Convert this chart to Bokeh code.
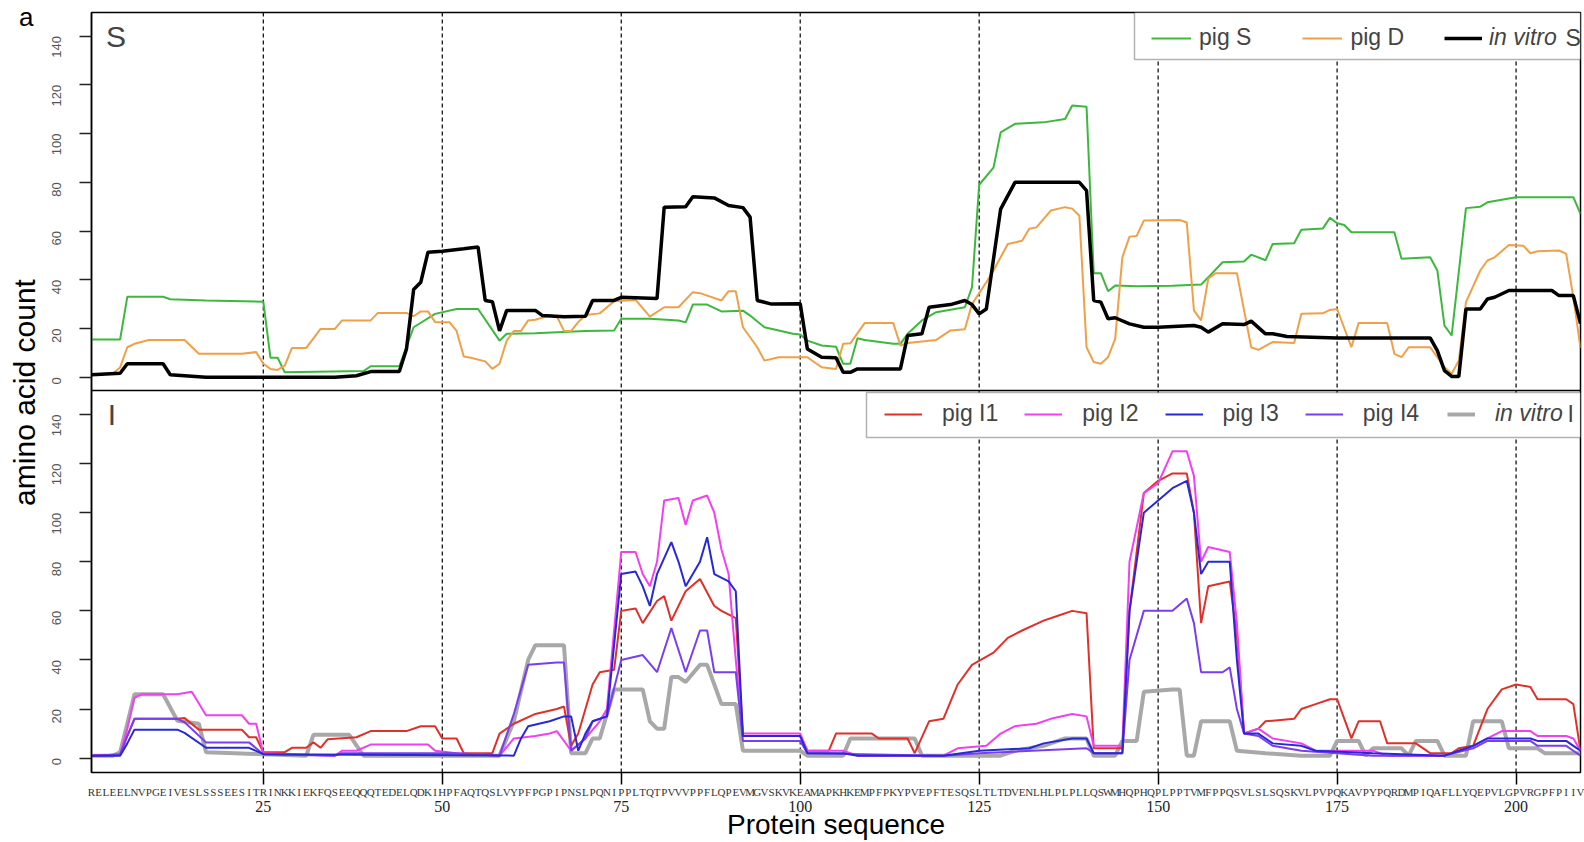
import math
from bokeh.plotting import figure
from bokeh.models import (Range1d, LinearAxis, FixedTicker, Span, Legend, LegendItem,
                          Label, BoxAnnotation)
from bokeh.embed import file_html
from bokeh.resources import INLINE

# ---------------- data ----------------
SEQUENCE = ("RELEELNVPGEIVESLSSSEESITRINKKIEKFQSEEQQQTEDELQDKIHPFAQTQSLVYPFPGPIPNSLPQNIPPLTQTPVVV"
            "PPFLQPEVMGVSKVKEAMAPKHKEMPFPKYPVEPFTESQSLTLTDVENLHLPLPLLQSWMHQPHQPLPPTVMFPPQSVLSLSQS"
            "KVLPVPQKAVPYPQRDMPIQAFLLYQEPVLGPVRGPFPIIV")
POSITION_TICKS = [25, 50, 75, 100, 125, 150, 175, 200]
COUNT_TICKS = [0, 20, 40, 60, 80, 100, 120, 140]

# panel S
PIG_S_X = [1,5,6,11,12,17,25,26,27,28,39,40,44,46,49,52,55,58,59,63,70,74,75,79,83,84,85,87,89,92,93,95,99,100,101,103,105,106,107,108,109,113,114,115,117,119,123,124,125,127,128,130,134,137,138,140,141,142,143,144,147,152,156,157,159,162,163,165,166,169,170,173,174,175,176,177,183,184,188,189,190,191,193,195,196,200,208,209]
PIG_S_Y = [15.5,15.5,33,33,32,31.5,31,8,8,2,2.5,4.5,4.5,20.5,26,28,28,15,17.8,18,19,19.2,24,24,23.3,22.5,29.8,29.8,27,27.3,25.3,20.5,17.8,17.5,15,13,12.5,5.5,5.5,16,15.3,13.7,13.7,17.8,23.3,26.7,28.7,37,79,86,100.5,104,104.6,106,111.5,111,42.7,42.7,35.3,37.6,37.3,37.5,38,41,47.2,47.5,50.3,48,54.7,55,60.5,61,65.4,63.2,62.5,59.5,59.5,48.6,49.2,43.8,21.2,17.1,69.4,70,71.8,73.9,73.9,67]

PIG_D_X = [1,4,5,6,7,9,14,16,22,24,25,26,27,28,29,31,33,35,36,40,41,45,46,47,48,49,51,52,53,54,56,57,58,59,60,61,62,63,65,66,67,68,69,70,72,74,77,79,81,83,85,86,89,90,91,92,94,95,97,101,103,105,106,107,109,113,114,115,119,121,123,124,126,127,129,131,132,133,135,137,138,139,140,141,142,143,144,145,146,147,148,153,154,155,156,157,158,161,163,164,166,169,170,173,174,175,177,178,182,183,184,185,188,189,190,191,192,193,195,196,197,199,201,202,203,206,207,208,209]
PIG_D_Y = [1,1.5,4,12.3,13.7,15.3,15.3,9.6,9.6,10.3,5.5,3.4,3,4.8,12,12,19.8,19.8,23.3,23.3,26.4,26.4,25,27,27,22.6,22.6,19,8.5,8,6.5,3.4,5.5,15,19,19,23.3,23.6,25.3,25,19,19,22.6,25.5,26.2,31.2,31.7,24.9,28.7,28.7,34.9,34.5,31.5,35.3,35.3,20.5,12.3,6.8,8.2,8.2,4.1,3.4,13.7,13.9,22.2,22.2,13,14,15.3,19.2,19.7,30,39,43.8,54.7,56,60.9,61.5,68.4,69.8,69.2,66.3,12.3,6.2,5.5,8.2,15.7,49.2,57.7,58,64.3,64.5,63.5,27.4,23.3,40.4,42.7,42.7,12.3,11.2,14.4,14,26,26.2,27.6,28,12.3,22.2,22.2,9.6,8.2,12.3,12.3,8.2,4.1,1.4,6.8,30.8,43.8,47.9,49.2,54.3,54,50.9,51.7,52,50.6,32.8,12]

VITRO_S_X = [1,5,6,11,12,14,17,35,38,40,44,45,46,47,48,50,53,55,56,57,58,59,63,64,67,70,71,74,75,80,81,84,85,88,90,92,93,94,96,100,101,103,105,106,107,108,114,115,117,118,121,123,124,125,126,128,130,139,140,141,142,143,144,146,148,150,155,156,157,159,162,163,165,166,168,175,188,189,190,191,192,193,195,196,197,199,205,206,208,209]
VITRO_S_Y = [1,1.6,5.5,5.5,1,0.6,0,0,0.6,2.3,2.3,11.6,36,39,51.3,51.7,52.7,53.4,31.5,31,19,27.4,27.4,25.3,24.8,25,31.5,31.5,32.8,32.3,69.8,70,74.1,73.6,70.5,69.6,65.7,31.5,30,30.2,11.6,8.2,8,2,2,3.4,3.4,17.1,17.8,28.7,29.8,31.5,29.8,26,28,69,80,80,76.6,31.5,30.8,24,24.4,21.9,20.5,20.5,21.2,20.5,18.5,21.9,21.6,23,17.8,17.8,16.7,16.1,16.1,10.9,2.7,0.3,0.3,28,28,32.1,32.8,35.6,35.6,33.5,33.5,22]

# panel I
PIG_I1_X = [1,5,6,7,13,14,16,22,23,24,25,28,29,31,32,33,34,38,40,45,47,49,50,52,53,57,58,60,63,66,67,68,69,70,71,72,74,75,77,78,80,81,82,84,86,88,89,91,92,100,101,104,105,110,111,115,116,118,120,122,124,127,129,131,134,136,138,140,141,145,146,148,150,152,154,155,156,157,160,161,162,164,165,169,170,172,174,175,177,178,181,182,186,188,191,192,194,196,198,200,202,203,207,208,209]
PIG_I1_Y = [1,1.5,9,16,16,16.3,11.6,11.6,8.5,8.5,2.4,2.4,4.2,4.2,6.4,4.2,7.7,8.5,11,11,13,13,8,8,2,2,10,14,18,20,21,5,10,20,30,35,36,60,61,55,64,66,56,68,73,62,60,57,9,9,3,3,10,10,8,8,2,15,16,30,38,43,49,52,56,58,60,59,4,4,60,108,113,116,116,100,55,70,72,50,10,12,15,16,20,22,24,24,8,15,15,6,6,2,2,4,5,20,28,30,29,24,24,22,3]

PIG_I2_X = [1,5,6,7,8,13,15,17,22,23,24,25,35,36,38,40,48,49,52,58,60,63,65,66,68,70,72,73,75,77,78,79,80,81,83,84,85,87,88,89,90,91,92,100,101,106,108,120,122,126,128,130,133,135,138,140,141,145,146,148,150,152,154,155,156,157,160,161,162,164,166,170,172,180,182,190,192,194,196,198,202,203,207,208,209]
PIG_I2_Y = [1,1.5,12,24.6,26,26,27,17.5,17.5,14,14,2,1,3,3,5.5,5.5,3,2,1,8,9,10,11,3,8,15,20,84,84,75,70,80,105,106,95,105,107,100,85,75,40,10,10,3,3,1,1,4,5,10,13,14,16,18,17,5,5,80,108,112,125,125,115,80,86,84,55,10,12,8,6,3,3,1,1,3,5,8,11,11,9,9,8,3]

PIG_I3_X = [1,5,6,7,13,14,17,23,25,60,61,62,65,67,68,69,70,71,73,75,77,78,79,80,82,83,84,86,87,88,90,91,92,100,101,106,108,120,125,132,134,138,140,141,145,146,148,150,152,154,155,156,157,160,161,162,164,166,170,172,180,190,192,194,196,202,203,207,208,209]
PIG_I3_Y = [1,1,6,11.6,11.6,10.3,4.2,4.2,1.6,1,8,13,15,17,17,3,10,15,17,75,76,70,62,75,88,80,70,80,90,75,72,68,9,9,2,2,1,1,3,4,6,8,8,2,2,60,100,105,110,113,100,75,80,80,40,10,10,6,5,3,2,1,3,5,8,8,7,7,5,3]

PIG_I4_X = [1,5,6,7,13,14,17,23,25,35,36,48,52,58,60,62,66,67,68,70,71,73,75,78,80,82,84,86,87,88,91,92,100,101,120,125,140,141,145,146,148,152,154,155,156,159,160,161,162,164,166,170,180,190,194,196,202,203,207,208,209]
PIG_I4_Y = [1,1.5,9,16,16,14.6,6.4,6.4,1.6,1,2,2,2,1,18,38,39,39,3,8,15,17,40,42,35,53,35,52,52,35,35,7,7,2,1,2,4,2,2,40,60,60,65,55,35,35,37,20,10,9,5,3,1,1,4,7,7,5,5,3,1]

VITRO_I_X = [1,4,5,6,7,11,13,16,17,25,31,32,37,39,58,60,62,63,67,68,70,71,72,74,78,79,80,81,82,83,84,86,87,88,89,91,92,100,101,106,107,116,117,128,130,134,137,140,141,144,145,147,148,152,153,154,155,156,160,161,165,170,174,175,178,179,180,184,185,186,189,190,193,194,198,199,203,204,209]
VITRO_I_Y = [1,1,2.4,14,26,26,15.2,14,2.4,1.6,1,9.5,9.5,1,1,15,40,46,46,2,2,8,8,28,28,15,12,12,33,33,31,38,38,30,22,22,3,3,1,1,8,8,1,1,3,5,8,8,1,1,7,7,27,28,28,1,1,15,15,3,2,1,1,7,7,1,4,4,1,7,7,1,1,15,15,4,4,2,2]

# ---------------- layout constants ----------------
W, H = 1584, 842
FRAME_W, FRAME_H, TOP_H, BOT_H = 1489, 760, 378, 382
B0, B1 = -5.87, 149.8          # count range of the lower panel
T0, T1 = -5.46, 149.7          # count range of the upper panel
b_scale = BOT_H / (B1 - B0)
B_END = B0 + FRAME_H / b_scale
t_scale = TOP_H / (T1 - T0)
T_START = T1 - FRAME_H / t_scale
N = len(SEQUENCE)
px_per_res = FRAME_W / (N - 1)

def top_to_main(v):
    return B0 + (v - T_START) / (T1 - T_START) * (B_END - B0)

SANS = "Liberation Sans"
SERIF = "Liberation Serif"

p = figure(width=W, height=H, x_range=Range1d(1, N), y_range=Range1d(B0, B_END),
           x_axis_type=None, y_axis_type=None, output_backend="svg", toolbar_location=None,
           min_border_left=91, min_border_right=4, min_border_top=12, min_border_bottom=70)
p.extra_y_ranges = {"top": Range1d(T_START, T1)}
p.outline_line_color = "black"
p.outline_line_width = 1.5
p.background_fill_color = "white"
p.border_fill_color = "white"

# left axis (both panels)
top_ticks = [round(top_to_main(v), 4) for v in COUNT_TICKS]
overrides = {float(v): str(v) for v in COUNT_TICKS}
overrides.update({t: str(v) for t, v in zip(top_ticks, COUNT_TICKS)})
yax = LinearAxis(ticker=FixedTicker(ticks=[float(v) for v in COUNT_TICKS] + top_ticks, minor_ticks=[]),
                 major_label_overrides=overrides,
                 major_label_orientation=math.pi / 2,
                 major_tick_out=12, major_tick_in=0, minor_tick_out=0, minor_tick_in=0,
                 major_tick_line_color="#222", major_tick_line_width=1.5,
                 axis_line_color="black", axis_line_width=1.5,
                 major_label_standoff=23,
                 major_label_text_font=SANS, major_label_text_font_size="13px",
                 major_label_text_color="#555",
                 axis_label="amino acid count", axis_label_standoff=4,
                 axis_label_text_font=SANS, axis_label_text_font_size="30px",
                 axis_label_text_font_style="normal", axis_label_text_color="black")
p.add_layout(yax, "left")

# panel tag "a" at the top-left corner, carried by an outer left axis
a_pos = B_END - 1.5 / b_scale
tag_ax = LinearAxis(ticker=FixedTicker(ticks=[a_pos], minor_ticks=[]),
                    major_label_overrides={a_pos: "a"},
                    major_label_orientation="horizontal",
                    major_tick_out=0, major_tick_in=0, minor_tick_out=0, minor_tick_in=0,
                    major_tick_line_color=None, axis_line_color=None,
                    major_label_standoff=-29,
                    major_label_text_font=SANS, major_label_text_font_size="26px",
                    major_label_text_color="black")
p.add_layout(tag_ax, "left")

# bottom: sequence letters with ticks every 25 residues
RESIDUES = list(range(1, N + 1))
seq_ax = LinearAxis(ticker=FixedTicker(ticks=RESIDUES, minor_ticks=POSITION_TICKS),
                    major_label_overrides={r: ch for r, ch in zip(RESIDUES, SEQUENCE)},
                    major_tick_line_color=None, major_tick_out=12, major_tick_in=0,
                    minor_tick_out=12, minor_tick_in=0, minor_tick_line_color="black",
                    minor_tick_line_width=1.5, axis_line_color=None,
                    major_label_standoff=1,
                    major_label_text_font=SERIF, major_label_text_font_size="11px",
                    major_label_text_color="#333")
p.add_layout(seq_ax, "below")
num_ax = LinearAxis(ticker=FixedTicker(ticks=POSITION_TICKS, minor_ticks=[]),
                    major_tick_line_color=None, major_tick_out=0, major_tick_in=0,
                    minor_tick_out=0, minor_tick_in=0, axis_line_color=None,
                    major_label_standoff=0,
                    major_label_text_font=SERIF, major_label_text_font_size="16px",
                    major_label_text_color="#222",
                    axis_label="Protein sequence", axis_label_standoff=-6,
                    axis_label_text_font=SANS, axis_label_text_font_size="28px",
                    axis_label_text_font_style="normal", axis_label_text_color="black")
p.add_layout(num_ax, "below")

# dashed verticals and panel separator
for t in POSITION_TICKS:
    p.add_layout(Span(location=t, dimension="height", line_color="black", line_width=1.2,
                      line_dash="4 3", level="underlay"))
p.add_layout(Span(location=B1, dimension="width", line_color="black", line_width=1.5))

# curves
r_s = p.line(PIG_S_X, PIG_S_Y, y_range_name="top", line_color="#3cb93c", line_width=2)
r_d = p.line(PIG_D_X, PIG_D_Y, y_range_name="top", line_color="#f0a048", line_width=2)
r_vs = p.line(VITRO_S_X, VITRO_S_Y, y_range_name="top", line_color="black", line_width=3.5)

r_vi = p.line(VITRO_I_X, VITRO_I_Y, line_color="#a8a8a8", line_width=4)
r_i1 = p.line(PIG_I1_X, PIG_I1_Y, line_color="#e0302a", line_width=2)
r_i2 = p.line(PIG_I2_X, PIG_I2_Y, line_color="#f040f0", line_width=2)
r_i4 = p.line(PIG_I4_X, PIG_I4_Y, line_color="#7a3df0", line_width=2)
r_i3 = p.line(PIG_I3_X, PIG_I3_Y, line_color="#2828d8", line_width=2)

# legend boxes
p.add_layout(BoxAnnotation(left=1 + 1043 / px_per_res, right=N, top=T1,
                           bottom=T1 - 47 / t_scale, y_range_name="top",
                           fill_color="white", fill_alpha=1, line_color="black", line_width=1.5))
p.add_layout(BoxAnnotation(left=1 + 775 / px_per_res, right=N, top=B1 - 2 / b_scale,
                           bottom=B1 - 47 / b_scale,
                           fill_color="white", fill_alpha=1, line_color="black", line_width=1.5))

def make_legend(items, loc, glyph_w, standoff, spacing, style):
    lg = Legend(items=items, location=loc, orientation="horizontal",
                glyph_width=glyph_w, glyph_height=20, label_standoff=standoff, spacing=spacing,
                padding=6, margin=0, border_line_color=None, background_fill_alpha=0,
                label_text_font=SANS, label_text_font_size="23px",
                label_text_font_style=style, label_height=20)
    p.add_layout(lg)
    return lg

make_legend([LegendItem(label="pig S", renderers=[r_s]), LegendItem(label="pig D", renderers=[r_d])],
            (1060, 721), 40, 8, 51, "normal")
make_legend([LegendItem(label="in vitro", renderers=[r_vs])], (1353, 721), 38, 7, 0, "italic")
make_legend([LegendItem(label="pig I1", renderers=[r_i1]), LegendItem(label="pig I2", renderers=[r_i2]),
             LegendItem(label="pig I3", renderers=[r_i3]), LegendItem(label="pig I4", renderers=[r_i4])],
            (793, 345), 38, 20, 26, "normal")
make_legend([LegendItem(label="in vitro", renderers=[r_vi])], (1356, 345), 28, 20, 0, "italic")

p.add_layout(Label(x=1 + 1474 / px_per_res, y=T1 - 25 / t_scale, y_range_name="top", text="S",
                   text_baseline="middle", text_font=SANS, text_font_size="23px"))
p.add_layout(Label(x=1 + 1476 / px_per_res, y=B1 - 23 / b_scale, text="I",
                   text_baseline="middle", text_font=SANS, text_font_size="23px"))

# panel letters
p.add_layout(Label(x=1 + 14.5 / px_per_res, y=T1 - 23.5 / t_scale, y_range_name="top", text="S",
                   text_baseline="middle", text_font=SANS, text_font_size="30px"))
p.add_layout(Label(x=1 + 16.2 / px_per_res, y=B1 - 23.5 / b_scale, text="I",
                   text_baseline="middle", text_font=SANS, text_font_size="30px"))

open("out.html", "w").write(file_html(p, INLINE))
